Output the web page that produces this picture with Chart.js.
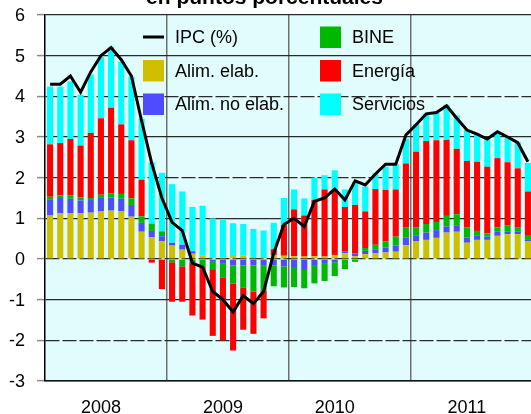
<!DOCTYPE html>
<html><head><meta charset="utf-8">
<script src="https://cdn.jsdelivr.net/npm/chart.js@4.4.1/dist/chart.umd.min.js"></script>
<style>
html,body{margin:0;padding:0;overflow:hidden;background:#fff;width:531px;height:414px}
#wrap{position:absolute;left:0;top:0;width:533px;height:414px}
</style>
</head><body>
<div id="wrap"><canvas id="c" width="533" height="414"></canvas></div>
<script>
// ---- data ----
const years = ['2008', '2009', '2010', '2011'];
const monthNames = ['ene', 'feb', 'mar', 'abr', 'may', 'jun', 'jul', 'ago', 'sep', 'oct', 'nov', 'dic'];
const categories = years.flatMap(y => monthNames.map(m => m + '-' + y.slice(2)));
const yearTickLabels = ['2008', '2009', '2010', '2011'];
const yearTickIndex = [5, 17, 28, 41];
const yTicks = {min: -3, max: 6, step: 1};

const ipc = [4.3, 4.3, 4.5, 4.1, 4.6, 5.0, 5.2, 4.9, 4.5, 3.4, 2.35, 1.5,
  0.9, 0.7, -0.1, -0.2, -0.8, -1.0, -1.3, -0.9, -1.1, -0.8, 0.15, 0.85,
  1.0, 0.8, 1.42, 1.5, 1.72, 1.45, 1.92, 1.82, 2.09, 2.33, 2.33, 3.05,
  3.3, 3.57, 3.6, 3.77, 3.46, 3.17, 3.07, 2.95, 3.13, 3.0, 2.86, 2.39];

const alimElab = [1.07, 1.12, 1.13, 1.13, 1.14, 1.18, 1.19, 1.17, 1.04, 0.67, 0.53, 0.44,
  0.33, 0.23, 0.13, 0.08, 0.02, 0.04, 0.10, 0.08, 0.05, 0.05, 0.10, 0.08,
  0.07, 0.06, 0.07, 0.06, 0.10, 0.14, 0.07, 0.12, 0.14, 0.16, 0.18, 0.34,
  0.43, 0.47, 0.52, 0.65, 0.67, 0.40, 0.47, 0.47, 0.57, 0.61, 0.61, 0.43];

const alimNoElab = [0.40, 0.38, 0.35, 0.31, 0.31, 0.34, 0.32, 0.31, 0.29, 0.22, 0.16, 0.12,
  0.07, 0.12, 0.06, 0.00, -0.05, -0.10, -0.16, -0.16, -0.16, -0.15, -0.16, -0.18,
  -0.22, -0.27, -0.17, -0.12, -0.08, 0.04, 0.07, 0.08, 0.10, 0.12, 0.15, 0.19,
  0.14, 0.18, 0.19, 0.15, 0.16, 0.13, 0.10, 0.08, 0.10, 0.06, 0.06, 0.04];

const bine = [0.06, 0.06, 0.09, 0.07, 0.05, 0.06, 0.11, 0.12, 0.16, 0.16, 0.18, 0.12,
  -0.08, -0.18, -0.10, -0.20, -0.20, -0.35, -0.45, -0.55, -0.64, -0.63, -0.51, -0.52,
  -0.47, -0.45, -0.43, -0.42, -0.34, -0.25, -0.07, 0.07, 0.11, 0.15, 0.22, 0.24,
  0.20, 0.21, 0.20, 0.26, 0.27, 0.25, 0.12, 0.08, 0.11, 0.15, 0.10, 0.10];

const energia = [1.29, 1.29, 1.38, 1.28, 1.60, 1.88, 2.10, 1.71, 1.43, 0.90, -0.09, -0.74,
  -0.97, -0.87, -1.29, -1.29, -1.64, -1.55, -1.64, -1.03, -1.04, -0.68, 0.14, 0.76,
  1.15, 1.01, 1.38, 1.65, 1.61, 1.10, 1.19, 0.90, 1.37, 1.27, 1.16, 1.58,
  1.87, 2.04, 2.01, 1.87, 1.61, 1.63, 1.70, 1.64, 1.70, 1.56, 1.46, 1.09];

const servicios = [1.42, 1.39, 1.42, 1.25, 1.44, 1.51, 1.50, 1.54, 1.57, 1.50, 1.51, 1.44,
  1.44, 1.31, 1.09, 1.23, 0.98, 0.92, 0.78, 0.78, 0.69, 0.65, 0.65, 0.66,
  0.49, 0.42, 0.55, 0.35, 0.47, 0.43, 0.55, 0.61, 0.39, 0.57, 0.62, 0.61,
  0.68, 0.68, 0.67, 0.86, 0.82, 0.76, 0.70, 0.70, 0.61, 0.61, 0.65, 0.70];

const titleText = 'en puntos porcentuales';

// ---- styles ----
const FONT = "'Liberation Sans', Arial, sans-serif";
const colors = {ipc: '#000000', alimElab: '#CFBF00', alimNoElab: '#4D4DFF', bine: '#00B800', energia: '#FF0000', servicios: '#00FFFF'};

const bgPlugin = {
  id: 'bg',
  beforeDraw(chart) {
    const {ctx, chartArea: a} = chart;
    ctx.save();
    ctx.fillStyle = '#E1FCFC';
    ctx.fillRect(a.left, a.top, a.right - a.left, a.bottom - a.top);
    ctx.restore();
  }
};

const titlePlugin = {
  id: 'ttl',
  afterDraw(chart) {
    const ctx = chart.ctx;
    ctx.save();
    ctx.font = 'bold 21px ' + FONT;
    ctx.fillStyle = '#000';
    ctx.textAlign = 'center';
    ctx.textBaseline = 'alphabetic';
    ctx.fillText(titleText, 264.5, 4);
    ctx.restore();
  }
};

const legendPlugin = {
  id: 'lg',
  afterDraw(chart) {
    const ctx = chart.ctx;
    const ds = chart.data.datasets;
    const rows = [37.5, 71, 104.5];
    const cols = [{sym: 143, txt: 175}, {sym: 320, txt: 352}];
    ctx.save();
    ctx.font = '18px ' + FONT;
    ctx.textBaseline = 'middle';
    ctx.textAlign = 'left';
    ds.forEach((d, i) => {
      const c = cols[Math.floor(i / 3)];
      const yc = rows[i % 3];
      if (d.type === 'line') {
        ctx.strokeStyle = d.borderColor;
        ctx.lineWidth = 3;
        ctx.beginPath();
        ctx.moveTo(c.sym, yc - 0.5);
        ctx.lineTo(c.sym + 21, yc - 0.5);
        ctx.stroke();
      } else {
        ctx.fillStyle = d.backgroundColor;
        ctx.fillRect(c.sym, yc - 11, 21, 21.5);
      }
      ctx.fillStyle = '#000';
      ctx.fillText(d.label, c.txt, yc + 1);
    });
    ctx.restore();
  }
};

new Chart(document.getElementById('c'), {
  type: 'bar',
  data: {
    labels: categories,
    datasets: [
      {type: 'line', label: 'IPC (%)', data: ipc, borderColor: colors.ipc, borderWidth: 3, pointRadius: 0, tension: 0, order: 0, stack: 'ipc', fill: false},
      {label: 'Alim. elab.', data: alimElab, backgroundColor: colors.alimElab, stack: 'c', order: 1},
      {label: 'Alim. no elab.', data: alimNoElab, backgroundColor: colors.alimNoElab, stack: 'c', order: 1},
      {label: 'BINE', data: bine, backgroundColor: colors.bine, stack: 'c', order: 1},
      {label: 'Energía', data: energia, backgroundColor: colors.energia, stack: 'c', order: 1},
      {label: 'Servicios', data: servicios, backgroundColor: colors.servicios, stack: 'c', order: 1}
    ]
  },
  options: {
    responsive: false,
    animation: false,
    layout: {padding: {top: 15, right: 0, left: 0, bottom: 0}},
    plugins: {legend: {display: false}, tooltip: {enabled: false}, title: {display: false}},
    datasets: {bar: {categoryPercentage: 1, barPercentage: 0.6, borderWidth: 0}},
    scales: {
      x: {
        stacked: true,
        offset: true,
        grid: {
          offset: true,
          drawTicks: false,
          lineWidth: 1.5,
          color: c => (c.index % 12 === 0 && c.index > 0) ? '#707070' : 'rgba(0,0,0,0)'
        },
        border: {color: '#111', width: 1.5},
        ticks: {
          autoSkip: false, maxRotation: 0, minRotation: 0, padding: 16, color: '#000',
          font: {family: FONT, size: 18},
          callback: (v, i) => { const k = yearTickIndex.indexOf(i); return k >= 0 ? yearTickLabels[k] : ''; }
        },
        afterFit: s => { s.height = 33; s.paddingLeft = 0; s.paddingRight = 0; }
      },
      y: {
        stacked: true,
        min: yTicks.min, max: yTicks.max,
        z: 1,
        ticks: {stepSize: yTicks.step, padding: 12, labelOffset: 1, color: '#000', font: {family: FONT, size: 18}},
        grid: {color: '#2a2a2a', lineWidth: 1.2, tickLength: 8, tickColor: '#8a8a8a', tickWidth: 1.5},
        border: {color: '#000', width: 1.5, dash: c => (c.tick && c.tick.value % 2 === 0 && c.tick.value !== 6) ? [14, 3] : []},
        afterFit: s => { s.width = 45; s.paddingTop = 0; s.paddingBottom = 0; }
      }
    }
  },
  plugins: [bgPlugin, titlePlugin, legendPlugin]
});
</script>
</body></html>
